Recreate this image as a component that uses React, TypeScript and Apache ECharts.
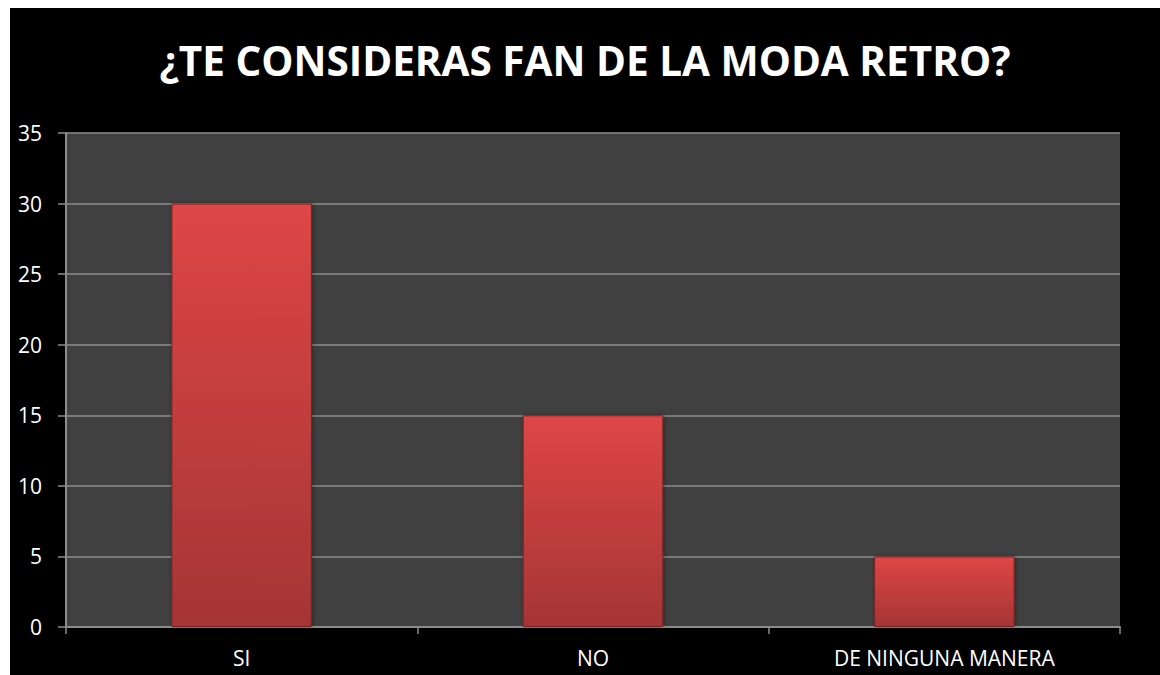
import React, { useEffect, useRef } from "react";
import * as echarts from "echarts";

const title = "¿TE CONSIDERAS FAN DE LA MODA RETRO?";
const categories = ["SI", "NO", "DE NINGUNA MANERA"];
const values = [30, 15, 5];
const yTicks = { min: 0, max: 35, interval: 5 };

export default function App() {
  const ref = useRef<HTMLDivElement>(null);
  useEffect(() => {
    document.body.style.margin = "0";
    document.body.style.background = "#ffffff";
    const chart = echarts.init(ref.current!, null, { renderer: "svg" });
    chart.setOption({
      animation: false,
      backgroundColor: "#000000",
      title: {
        text: title,
        left: "center",
        top: 27,
        textStyle: {
          color: "#ffffff",
          fontFamily: "Open Sans",
          fontWeight: "bold",
          fontSize: 40.5,
        },
      },
      grid: {
        left: 56,
        right: 40,
        top: 125,
        bottom: 48,
        show: true,
        backgroundColor: "#404040",
        borderWidth: 0,
      },
      xAxis: {
        type: "category",
        data: categories,
        axisLine: { show: true, lineStyle: { color: "#8c8c8c", width: 2 } },
        axisTick: { show: true, length: 7, lineStyle: { color: "#8c8c8c", width: 1.5 } },
        axisLabel: {
          color: "#ffffff",
          fontFamily: "Open Sans",
          fontSize: 21,
          margin: 20,
        },
      },
      yAxis: {
        type: "value",
        min: yTicks.min,
        max: yTicks.max,
        interval: yTicks.interval,
        axisLine: { show: true, lineStyle: { color: "#8c8c8c", width: 2 } },
        axisTick: { show: true, length: 8, lineStyle: { color: "#8c8c8c", width: 1.5 } },
        splitLine: { show: true, lineStyle: { color: "#8c8c8c", width: 1.5 } },
        axisLabel: {
          color: "#ffffff",
          fontFamily: "Open Sans",
          fontSize: 21,
          margin: 24,
        },
      },
      series: [
        {
          type: "bar",
          data: values,
          barWidth: "40%",
          itemStyle: {
            color: new echarts.graphic.LinearGradient(0, 0, 0, 1, [
              { offset: 0, color: "#de4646" },
              { offset: 1, color: "#a53535" },
            ]),
            borderColor: "#7a2424",
            borderWidth: 1,
            shadowColor: "rgba(0,0,0,0.35)",
            shadowBlur: 4,
            shadowOffsetX: 1,
          },
        },
      ],
    });
    return () => chart.dispose();
  }, []);
  return (
    <div
      ref={ref}
      style={{ width: 1150, height: 667, marginLeft: 10, marginTop: 8 }}
    />
  );
}
